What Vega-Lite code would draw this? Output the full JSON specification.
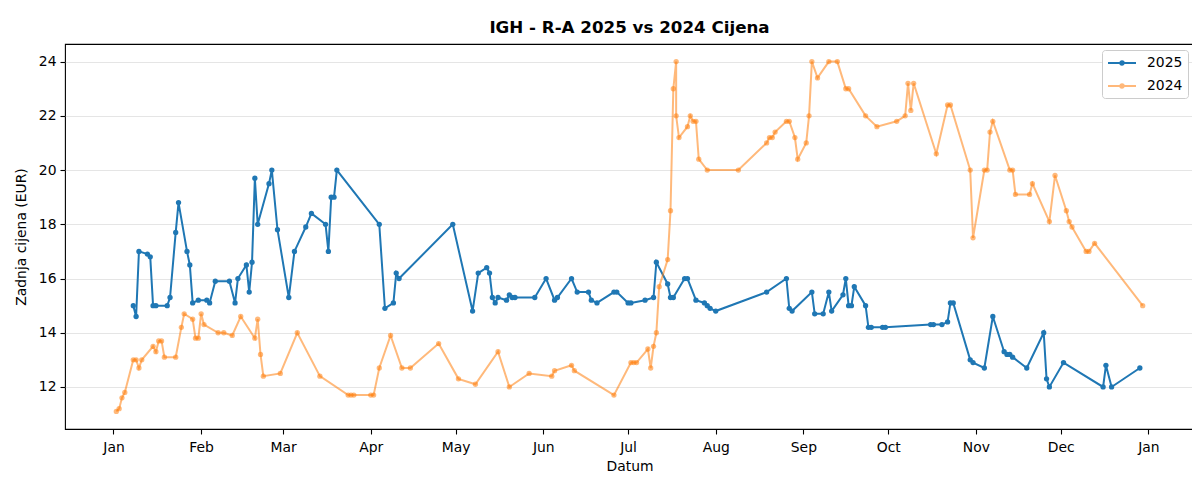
{
  "$schema": "https://vega.github.io/schema/vega-lite/v6.json",
  "autosize": "none",
  "padding": {"left": 65, "top": 44, "right": 0, "bottom": 48},
  "width": 1129,
  "height": 385,
  "background": "white",
  "title": {"text": "IGH - R-A 2025 vs 2024 Cijena", "font": "DejaVu Sans", "fontSize": 16.7, "fontWeight": "bold", "color": "black", "anchor": "middle", "offset": 7},
  "config": {
    "font": "DejaVu Sans",
    "view": {"stroke": "black", "strokeWidth": 1.1},
    "axis": {"labelFont": "DejaVu Sans", "labelFontSize": 13.9, "labelColor": "black", "titleFont": "DejaVu Sans", "titleFontSize": 13.9, "titleFontWeight": "normal", "titleColor": "black", "tickColor": "black", "tickSize": 5, "tickWidth": 1.1, "domainColor": "black", "domainWidth": 1.1, "labelPadding": 4}
  },
  "data": {"values": [
    {"s":"2025","d":"2024-01-08","v":15.0,"i":1},
    {"s":"2025","d":"2024-01-09","v":14.6,"i":2},
    {"s":"2025","d":"2024-01-10","v":17.0,"i":3},
    {"s":"2025","d":"2024-01-13","v":16.9,"i":4},
    {"s":"2025","d":"2024-01-14","v":16.8,"i":5},
    {"s":"2025","d":"2024-01-15","v":15.0,"i":6},
    {"s":"2025","d":"2024-01-16","v":15.0,"i":7},
    {"s":"2025","d":"2024-01-20","v":15.0,"i":8},
    {"s":"2025","d":"2024-01-21","v":15.3,"i":9},
    {"s":"2025","d":"2024-01-23","v":17.7,"i":10},
    {"s":"2025","d":"2024-01-24","v":18.8,"i":11},
    {"s":"2025","d":"2024-01-27","v":17.0,"i":12},
    {"s":"2025","d":"2024-01-28","v":16.5,"i":13},
    {"s":"2025","d":"2024-01-29","v":15.1,"i":14},
    {"s":"2025","d":"2024-01-31","v":15.2,"i":15},
    {"s":"2025","d":"2024-02-03","v":15.2,"i":16},
    {"s":"2025","d":"2024-02-04","v":15.1,"i":17},
    {"s":"2025","d":"2024-02-06","v":15.9,"i":18},
    {"s":"2025","d":"2024-02-11","v":15.9,"i":19},
    {"s":"2025","d":"2024-02-13","v":15.1,"i":20},
    {"s":"2025","d":"2024-02-14","v":16.0,"i":21},
    {"s":"2025","d":"2024-02-17","v":16.5,"i":22},
    {"s":"2025","d":"2024-02-18","v":15.5,"i":23},
    {"s":"2025","d":"2024-02-19","v":16.6,"i":24},
    {"s":"2025","d":"2024-02-20","v":19.7,"i":25},
    {"s":"2025","d":"2024-02-21","v":18.0,"i":26},
    {"s":"2025","d":"2024-02-25","v":19.5,"i":27},
    {"s":"2025","d":"2024-02-26","v":20.0,"i":28},
    {"s":"2025","d":"2024-02-28","v":17.8,"i":29},
    {"s":"2025","d":"2024-03-03","v":15.3,"i":30},
    {"s":"2025","d":"2024-03-05","v":17.0,"i":31},
    {"s":"2025","d":"2024-03-09","v":17.9,"i":32},
    {"s":"2025","d":"2024-03-11","v":18.4,"i":33},
    {"s":"2025","d":"2024-03-16","v":18.0,"i":34},
    {"s":"2025","d":"2024-03-17","v":17.0,"i":35},
    {"s":"2025","d":"2024-03-18","v":19.0,"i":36},
    {"s":"2025","d":"2024-03-19","v":19.0,"i":37},
    {"s":"2025","d":"2024-03-20","v":20.0,"i":38},
    {"s":"2025","d":"2024-04-04","v":18.0,"i":39},
    {"s":"2025","d":"2024-04-06","v":14.9,"i":40},
    {"s":"2025","d":"2024-04-09","v":15.1,"i":41},
    {"s":"2025","d":"2024-04-10","v":16.2,"i":42},
    {"s":"2025","d":"2024-04-11","v":16.0,"i":43},
    {"s":"2025","d":"2024-04-30","v":18.0,"i":44},
    {"s":"2025","d":"2024-05-07","v":14.8,"i":45},
    {"s":"2025","d":"2024-05-09","v":16.2,"i":46},
    {"s":"2025","d":"2024-05-12","v":16.4,"i":47},
    {"s":"2025","d":"2024-05-13","v":16.2,"i":48},
    {"s":"2025","d":"2024-05-14","v":15.3,"i":49},
    {"s":"2025","d":"2024-05-15","v":15.1,"i":50},
    {"s":"2025","d":"2024-05-16","v":15.3,"i":51},
    {"s":"2025","d":"2024-05-19","v":15.2,"i":52},
    {"s":"2025","d":"2024-05-20","v":15.4,"i":53},
    {"s":"2025","d":"2024-05-21","v":15.3,"i":54},
    {"s":"2025","d":"2024-05-22","v":15.3,"i":55},
    {"s":"2025","d":"2024-05-29","v":15.3,"i":56},
    {"s":"2025","d":"2024-06-02","v":16.0,"i":57},
    {"s":"2025","d":"2024-06-05","v":15.2,"i":58},
    {"s":"2025","d":"2024-06-06","v":15.3,"i":59},
    {"s":"2025","d":"2024-06-11","v":16.0,"i":60},
    {"s":"2025","d":"2024-06-13","v":15.5,"i":61},
    {"s":"2025","d":"2024-06-17","v":15.5,"i":62},
    {"s":"2025","d":"2024-06-18","v":15.2,"i":63},
    {"s":"2025","d":"2024-06-20","v":15.1,"i":64},
    {"s":"2025","d":"2024-06-26","v":15.5,"i":65},
    {"s":"2025","d":"2024-06-27","v":15.5,"i":66},
    {"s":"2025","d":"2024-07-01","v":15.1,"i":67},
    {"s":"2025","d":"2024-07-02","v":15.1,"i":68},
    {"s":"2025","d":"2024-07-07","v":15.2,"i":69},
    {"s":"2025","d":"2024-07-10","v":15.3,"i":70},
    {"s":"2025","d":"2024-07-11","v":16.6,"i":71},
    {"s":"2025","d":"2024-07-15","v":15.8,"i":72},
    {"s":"2025","d":"2024-07-16","v":15.3,"i":73},
    {"s":"2025","d":"2024-07-17","v":15.3,"i":74},
    {"s":"2025","d":"2024-07-21","v":16.0,"i":75},
    {"s":"2025","d":"2024-07-22","v":16.0,"i":76},
    {"s":"2025","d":"2024-07-25","v":15.2,"i":77},
    {"s":"2025","d":"2024-07-28","v":15.1,"i":78},
    {"s":"2025","d":"2024-07-29","v":15.0,"i":79},
    {"s":"2025","d":"2024-07-30","v":14.9,"i":80},
    {"s":"2025","d":"2024-08-01","v":14.8,"i":81},
    {"s":"2025","d":"2024-08-19","v":15.5,"i":82},
    {"s":"2025","d":"2024-08-26","v":16.0,"i":83},
    {"s":"2025","d":"2024-08-27","v":14.9,"i":84},
    {"s":"2025","d":"2024-08-28","v":14.8,"i":85},
    {"s":"2025","d":"2024-09-04","v":15.5,"i":86},
    {"s":"2025","d":"2024-09-05","v":14.7,"i":87},
    {"s":"2025","d":"2024-09-08","v":14.7,"i":88},
    {"s":"2025","d":"2024-09-10","v":15.5,"i":89},
    {"s":"2025","d":"2024-09-11","v":14.8,"i":90},
    {"s":"2025","d":"2024-09-15","v":15.4,"i":91},
    {"s":"2025","d":"2024-09-16","v":16.0,"i":92},
    {"s":"2025","d":"2024-09-17","v":15.0,"i":93},
    {"s":"2025","d":"2024-09-18","v":15.0,"i":94},
    {"s":"2025","d":"2024-09-19","v":15.7,"i":95},
    {"s":"2025","d":"2024-09-23","v":15.0,"i":96},
    {"s":"2025","d":"2024-09-24","v":14.2,"i":97},
    {"s":"2025","d":"2024-09-25","v":14.2,"i":98},
    {"s":"2025","d":"2024-09-29","v":14.2,"i":99},
    {"s":"2025","d":"2024-09-30","v":14.2,"i":100},
    {"s":"2025","d":"2024-10-16","v":14.3,"i":101},
    {"s":"2025","d":"2024-10-17","v":14.3,"i":102},
    {"s":"2025","d":"2024-10-20","v":14.3,"i":103},
    {"s":"2025","d":"2024-10-22","v":14.4,"i":104},
    {"s":"2025","d":"2024-10-23","v":15.1,"i":105},
    {"s":"2025","d":"2024-10-24","v":15.1,"i":106},
    {"s":"2025","d":"2024-10-30","v":13.0,"i":107},
    {"s":"2025","d":"2024-10-31","v":12.9,"i":108},
    {"s":"2025","d":"2024-11-04","v":12.7,"i":109},
    {"s":"2025","d":"2024-11-07","v":14.6,"i":110},
    {"s":"2025","d":"2024-11-11","v":13.3,"i":111},
    {"s":"2025","d":"2024-11-12","v":13.2,"i":112},
    {"s":"2025","d":"2024-11-13","v":13.2,"i":113},
    {"s":"2025","d":"2024-11-14","v":13.1,"i":114},
    {"s":"2025","d":"2024-11-19","v":12.7,"i":115},
    {"s":"2025","d":"2024-11-25","v":14.0,"i":116},
    {"s":"2025","d":"2024-11-26","v":12.3,"i":117},
    {"s":"2025","d":"2024-11-27","v":12.0,"i":118},
    {"s":"2025","d":"2024-12-02","v":12.9,"i":119},
    {"s":"2025","d":"2024-12-16","v":12.0,"i":120},
    {"s":"2025","d":"2024-12-17","v":12.8,"i":121},
    {"s":"2025","d":"2024-12-19","v":12.0,"i":122},
    {"s":"2025","d":"2024-12-29","v":12.7,"i":123},
    {"s":"2024","d":"2024-01-02","v":11.1,"i":1},
    {"s":"2024","d":"2024-01-03","v":11.2,"i":2},
    {"s":"2024","d":"2024-01-04","v":11.6,"i":3},
    {"s":"2024","d":"2024-01-05","v":11.8,"i":4},
    {"s":"2024","d":"2024-01-08","v":13.0,"i":5},
    {"s":"2024","d":"2024-01-09","v":13.0,"i":6},
    {"s":"2024","d":"2024-01-10","v":12.7,"i":7},
    {"s":"2024","d":"2024-01-11","v":13.0,"i":8},
    {"s":"2024","d":"2024-01-15","v":13.5,"i":9},
    {"s":"2024","d":"2024-01-16","v":13.3,"i":10},
    {"s":"2024","d":"2024-01-17","v":13.7,"i":11},
    {"s":"2024","d":"2024-01-18","v":13.7,"i":12},
    {"s":"2024","d":"2024-01-19","v":13.1,"i":13},
    {"s":"2024","d":"2024-01-23","v":13.1,"i":14},
    {"s":"2024","d":"2024-01-25","v":14.2,"i":15},
    {"s":"2024","d":"2024-01-26","v":14.7,"i":16},
    {"s":"2024","d":"2024-01-29","v":14.5,"i":17},
    {"s":"2024","d":"2024-01-30","v":13.8,"i":18},
    {"s":"2024","d":"2024-01-31","v":13.8,"i":19},
    {"s":"2024","d":"2024-02-01","v":14.7,"i":20},
    {"s":"2024","d":"2024-02-02","v":14.3,"i":21},
    {"s":"2024","d":"2024-02-07","v":14.0,"i":22},
    {"s":"2024","d":"2024-02-09","v":14.0,"i":23},
    {"s":"2024","d":"2024-02-12","v":13.9,"i":24},
    {"s":"2024","d":"2024-02-15","v":14.6,"i":25},
    {"s":"2024","d":"2024-02-20","v":13.8,"i":26},
    {"s":"2024","d":"2024-02-21","v":14.5,"i":27},
    {"s":"2024","d":"2024-02-22","v":13.2,"i":28},
    {"s":"2024","d":"2024-02-23","v":12.4,"i":29},
    {"s":"2024","d":"2024-02-29","v":12.5,"i":30},
    {"s":"2024","d":"2024-03-06","v":14.0,"i":31},
    {"s":"2024","d":"2024-03-14","v":12.4,"i":32},
    {"s":"2024","d":"2024-03-24","v":11.7,"i":33},
    {"s":"2024","d":"2024-03-25","v":11.7,"i":34},
    {"s":"2024","d":"2024-03-26","v":11.7,"i":35},
    {"s":"2024","d":"2024-04-01","v":11.7,"i":36},
    {"s":"2024","d":"2024-04-02","v":11.7,"i":37},
    {"s":"2024","d":"2024-04-04","v":12.7,"i":38},
    {"s":"2024","d":"2024-04-08","v":13.9,"i":39},
    {"s":"2024","d":"2024-04-12","v":12.7,"i":40},
    {"s":"2024","d":"2024-04-15","v":12.7,"i":41},
    {"s":"2024","d":"2024-04-25","v":13.6,"i":42},
    {"s":"2024","d":"2024-05-02","v":12.3,"i":43},
    {"s":"2024","d":"2024-05-08","v":12.1,"i":44},
    {"s":"2024","d":"2024-05-16","v":13.3,"i":45},
    {"s":"2024","d":"2024-05-20","v":12.0,"i":46},
    {"s":"2024","d":"2024-05-27","v":12.5,"i":47},
    {"s":"2024","d":"2024-06-04","v":12.4,"i":48},
    {"s":"2024","d":"2024-06-05","v":12.6,"i":49},
    {"s":"2024","d":"2024-06-11","v":12.8,"i":50},
    {"s":"2024","d":"2024-06-12","v":12.6,"i":51},
    {"s":"2024","d":"2024-06-26","v":11.7,"i":52},
    {"s":"2024","d":"2024-07-02","v":12.9,"i":53},
    {"s":"2024","d":"2024-07-03","v":12.9,"i":54},
    {"s":"2024","d":"2024-07-04","v":12.9,"i":55},
    {"s":"2024","d":"2024-07-08","v":13.4,"i":56},
    {"s":"2024","d":"2024-07-09","v":12.7,"i":57},
    {"s":"2024","d":"2024-07-10","v":13.5,"i":58},
    {"s":"2024","d":"2024-07-11","v":14.0,"i":59},
    {"s":"2024","d":"2024-07-12","v":15.7,"i":60},
    {"s":"2024","d":"2024-07-15","v":16.7,"i":61},
    {"s":"2024","d":"2024-07-16","v":18.5,"i":62},
    {"s":"2024","d":"2024-07-17","v":23.0,"i":63},
    {"s":"2024","d":"2024-07-18","v":24.0,"i":64},
    {"s":"2024","d":"2024-07-18","v":22.0,"i":65},
    {"s":"2024","d":"2024-07-19","v":21.2,"i":66},
    {"s":"2024","d":"2024-07-22","v":21.6,"i":67},
    {"s":"2024","d":"2024-07-23","v":22.0,"i":68},
    {"s":"2024","d":"2024-07-24","v":21.8,"i":69},
    {"s":"2024","d":"2024-07-25","v":21.8,"i":70},
    {"s":"2024","d":"2024-07-26","v":20.4,"i":71},
    {"s":"2024","d":"2024-07-29","v":20.0,"i":72},
    {"s":"2024","d":"2024-08-09","v":20.0,"i":73},
    {"s":"2024","d":"2024-08-19","v":21.0,"i":74},
    {"s":"2024","d":"2024-08-20","v":21.2,"i":75},
    {"s":"2024","d":"2024-08-21","v":21.2,"i":76},
    {"s":"2024","d":"2024-08-22","v":21.4,"i":77},
    {"s":"2024","d":"2024-08-26","v":21.8,"i":78},
    {"s":"2024","d":"2024-08-27","v":21.8,"i":79},
    {"s":"2024","d":"2024-08-29","v":21.2,"i":80},
    {"s":"2024","d":"2024-08-30","v":20.4,"i":81},
    {"s":"2024","d":"2024-09-02","v":21.0,"i":82},
    {"s":"2024","d":"2024-09-03","v":22.0,"i":83},
    {"s":"2024","d":"2024-09-04","v":24.0,"i":84},
    {"s":"2024","d":"2024-09-06","v":23.4,"i":85},
    {"s":"2024","d":"2024-09-10","v":24.0,"i":86},
    {"s":"2024","d":"2024-09-13","v":24.0,"i":87},
    {"s":"2024","d":"2024-09-16","v":23.0,"i":88},
    {"s":"2024","d":"2024-09-17","v":23.0,"i":89},
    {"s":"2024","d":"2024-09-23","v":22.0,"i":90},
    {"s":"2024","d":"2024-09-27","v":21.6,"i":91},
    {"s":"2024","d":"2024-10-04","v":21.8,"i":92},
    {"s":"2024","d":"2024-10-07","v":22.0,"i":93},
    {"s":"2024","d":"2024-10-08","v":23.2,"i":94},
    {"s":"2024","d":"2024-10-09","v":22.2,"i":95},
    {"s":"2024","d":"2024-10-10","v":23.2,"i":96},
    {"s":"2024","d":"2024-10-18","v":20.6,"i":97},
    {"s":"2024","d":"2024-10-22","v":22.4,"i":98},
    {"s":"2024","d":"2024-10-23","v":22.4,"i":99},
    {"s":"2024","d":"2024-10-30","v":20.0,"i":100},
    {"s":"2024","d":"2024-10-31","v":17.5,"i":101},
    {"s":"2024","d":"2024-11-04","v":20.0,"i":102},
    {"s":"2024","d":"2024-11-05","v":20.0,"i":103},
    {"s":"2024","d":"2024-11-06","v":21.4,"i":104},
    {"s":"2024","d":"2024-11-07","v":21.8,"i":105},
    {"s":"2024","d":"2024-11-13","v":20.0,"i":106},
    {"s":"2024","d":"2024-11-14","v":20.0,"i":107},
    {"s":"2024","d":"2024-11-15","v":19.1,"i":108},
    {"s":"2024","d":"2024-11-20","v":19.1,"i":109},
    {"s":"2024","d":"2024-11-21","v":19.5,"i":110},
    {"s":"2024","d":"2024-11-27","v":18.1,"i":111},
    {"s":"2024","d":"2024-11-29","v":19.8,"i":112},
    {"s":"2024","d":"2024-12-03","v":18.5,"i":113},
    {"s":"2024","d":"2024-12-04","v":18.1,"i":114},
    {"s":"2024","d":"2024-12-05","v":17.9,"i":115},
    {"s":"2024","d":"2024-12-10","v":17.0,"i":116},
    {"s":"2024","d":"2024-12-11","v":17.0,"i":117},
    {"s":"2024","d":"2024-12-13","v":17.3,"i":118},
    {"s":"2024","d":"2024-12-30","v":15.0,"i":119}
  ]},
  "mark": {"type": "line", "strokeWidth": 2, "point": {"filled": true, "size": 28}},
  "encoding": {
    "x": {"field": "d", "type": "temporal",
      "scale": {"type": "utc", "domain": [{"year": 2023, "month": 12, "date": 14, "hours": 20, "minutes": 24, "utc": true}, {"year": 2025, "month": 1, "date": 17, "hours": 3, "minutes": 36, "utc": true}]},
      "axis": {"title": "Datum", "format": "%b", "tickCount": {"interval": "month", "step": 1}, "grid": false, "domain": false, "labelFlush": false, "labelOverlap": false, "labelPadding": 6, "titlePadding": 6}},
    "y": {"field": "v", "type": "quantitative",
      "scale": {"domain": [10.45, 24.65], "nice": false, "zero": false},
      "axis": {"title": "Zadnja cijena (EUR)", "values": [12, 14, 16, 18, 20, 22, 24], "grid": true, "gridColor": "#e5e5e5", "gridWidth": 1, "domain": false, "titlePadding": 10}},
    "color": {"field": "s", "type": "nominal",
      "scale": {"domain": ["2025", "2024"], "range": ["#1f77b4", "#ff7f0e"]},
      "legend": {"title": null, "orient": "top-right", "offset": 6, "padding": 5,
        "symbolType": "M-1,0H3M1.25,0A0.25,0.25,0,1,1,0.75,0A0.25,0.25,0,1,1,1.25,0",
        "symbolSize": 196, "symbolStrokeWidth": 2, "labelFontSize": 13.9, "labelFont": "DejaVu Sans", "labelColor": "black", "labelOffset": 24,
        "rowPadding": 8, "strokeColor": "#cccccc", "fillColor": "white", "cornerRadius": 3}},
    "opacity": {"field": "s", "type": "nominal", "scale": {"domain": ["2025", "2024"], "range": [1, 0.55]}, "legend": null},
    "order": {"field": "i", "type": "quantitative"}
  }
}
